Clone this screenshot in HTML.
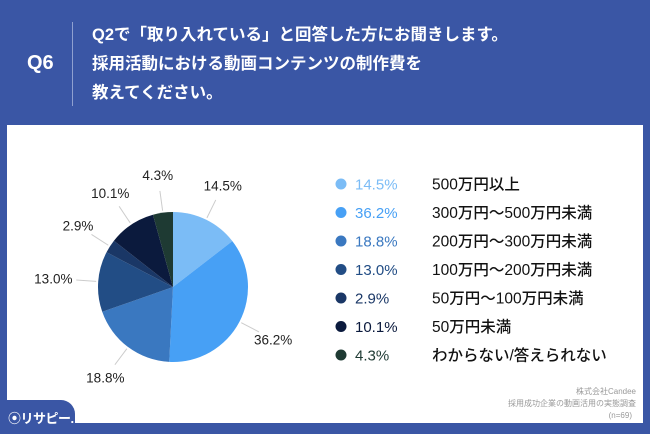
<!DOCTYPE html>
<html><head><meta charset="utf-8"><style>
body{margin:0;width:650px;height:434px;background:#3a56a5;position:relative;overflow:hidden;font-family:"Liberation Sans","Noto Sans CJK JP",sans-serif}
.t{position:absolute;color:#fff}
</style></head><body>
<div class="t" style="left:27px;top:52px;font-size:20px;font-weight:bold">Q6</div>
<div style="position:absolute;left:72px;top:22px;width:1px;height:84px;background:#8fa0d0"></div>
<div class="t" style="left:92px;top:21px;font-size:16.5px;font-weight:bold;line-height:29px">Q2で「取り入れている」と回答した方にお聞きします。<br>採用活動における動画コンテンツの制作費を<br>教えてください。</div>
<div style="position:absolute;left:7px;top:125px;width:636px;height:298px;background:#fff"></div>
<svg id="c" width="650" height="434" style="position:absolute;left:0;top:0" font-family="Liberation Sans, Noto Sans CJK JP, sans-serif"></svg>
<div style="position:absolute;left:0;top:400px;width:75px;height:34px;background:#3a56a5;border-top-right-radius:14px"></div>
<div class="t" style="left:8px;top:408px;font-size:13px;font-weight:bold;letter-spacing:-0.5px">⦿リサピー.</div>
<div style="position:absolute;right:14px;top:386px;text-align:right;font-size:8px;line-height:12px;color:#999">株式会社Candee<br>採用成功企業の動画活用の実態調査<br><span style="margin-right:4px">(n=69)</span></div>
<script>
const categories=["500万円以上","300万円～500万円未満","200万円～300万円未満","100万円～200万円未満","50万円～100万円未満","50万円未満","わからない/答えられない"];
const values=[14.5,36.2,18.8,13.0,2.9,10.1,4.3];
const labels=["14.5%","36.2%","18.8%","13.0%","2.9%","10.1%","4.3%"];
const colors=["#7bbcf6","#47a0f5","#3a78c0","#224d85","#1a3766","#0b1a3d","#1e3a33"];
const svg=document.getElementById('c'),NS="http://www.w3.org/2000/svg";
const cx=173,cy=287,r=75,tot=values.reduce((a,b)=>a+b,0);
let a=-Math.PI/2;
function mk(t,at){const e=document.createElementNS(NS,t);for(const k in at)e.setAttribute(k,at[k]);svg.appendChild(e);return e;}
values.forEach((v,i)=>{
 const a2=a+v/tot*2*Math.PI,large=(a2-a)>Math.PI?1:0;
 const p=mk('path',{d:`M${cx},${cy}L${cx+r*Math.cos(a)},${cy+r*Math.sin(a)}A${r},${r} 0 ${large} 1 ${cx+r*Math.cos(a2)},${cy+r*Math.sin(a2)}Z`,fill:colors[i]});
 
 
 const m=(a+a2)/2,c=Math.cos(m),s=Math.sin(m);
 const l=mk('line',{x1:cx+(r+2)*c,y1:cy+(r+2)*s,x2:cx+(r+22)*c,y2:cy+(r+22)*s,stroke:'#ccc','stroke-width':1});
 
 
 const lr=Math.abs(c)>0.9?r+45:r+38;
 const t=mk('text',{x:cx+lr*c,y:cy+lr*s+5,'font-size':13.5,fill:'#222','text-anchor':'middle'});
 t.textContent=labels[i];
 
 
 const y=184+i*28.5;
 const d=mk('circle',{cx:341,cy:y,r:5.5,fill:colors[i]});
 
 
 const p1=mk('text',{x:355,y:y+5.5,'font-size':15,fill:colors[i]});
 p1.textContent=labels[i];
 
 
 const p2=mk('text',{x:432,y:y+5.5,'font-size':15.5,'font-weight':'500',fill:'#111'});
 p2.textContent=categories[i];
 
 
 a=a2;
});
</script>
</body></html>
